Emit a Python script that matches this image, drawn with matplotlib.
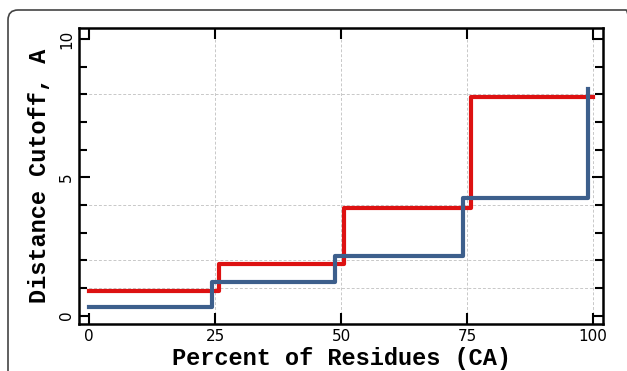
import numpy as np
import matplotlib
matplotlib.use('Agg')
import matplotlib.pyplot as plt
from matplotlib.patches import FancyBboxPatch
from matplotlib.ticker import MultipleLocator

# step curves (percent of residues vs distance cutoff)
red_x = [0, 25.8, 50.6, 75.8, 100]
red_y = [0.9, 1.85, 3.88, 7.9, 7.9]
blue_x = [0, 24.4, 48.8, 74.2, 99]
blue_y = [0.3, 1.2, 2.17, 4.24, 8.2]

hgrid = [1, 2, 4, 8]
vgrid = [25, 50, 75, 100]
xticks = [0, 25, 50, 75, 100]
yticks = [0, 5, 10]

fig = plt.figure(figsize=(6.27, 3.71), dpi=100)
ax = fig.add_axes([0.126, 0.127, 0.836, 0.798])

for g in hgrid:
    ax.axhline(g, color='#c8c8c8', linestyle=(0, (3, 2)), linewidth=0.7, zorder=0)
for g in vgrid:
    ax.axvline(g, color='#c8c8c8', linestyle=(0, (3, 2)), linewidth=0.7, zorder=0)

ax.step(red_x, red_y, where='post', color='#dd1111', linewidth=3, zorder=3)
ax.step(blue_x, blue_y, where='post', color='#3d5f8c', linewidth=3, zorder=4)

ax.set_xlim(-2, 102)
ax.set_ylim(-0.3, 10.4)
ax.set_xticks(xticks)
ax.set_yticks(yticks)
ax.yaxis.set_minor_locator(MultipleLocator(1))
ax.tick_params(which='both', direction='in', top=True, right=True,
               width=1.5, labelsize=11)
ax.tick_params(which='major', length=8)
ax.tick_params(which='minor', length=6)
for lab in ax.get_yticklabels():
    lab.set_rotation(90)
    lab.set_verticalalignment('center')
for s in ax.spines.values():
    s.set_linewidth(1.8)

ax.set_xlabel('Percent of Residues (CA)', family='Liberation Mono',
              fontweight='bold', fontsize=17, labelpad=2)
ax.set_ylabel('Distance Cutoff, A', family='Liberation Mono',
              fontweight='bold', fontsize=17, labelpad=6)

frame = FancyBboxPatch((0.08, -1.0), 6.28, 4.61,
                       boxstyle='round,pad=0,rounding_size=0.1',
                       transform=fig.dpi_scale_trans, fill=False,
                       edgecolor='#444444', linewidth=1.2)
fig.add_artist(frame)

fig.savefig('out.png', dpi=100)
